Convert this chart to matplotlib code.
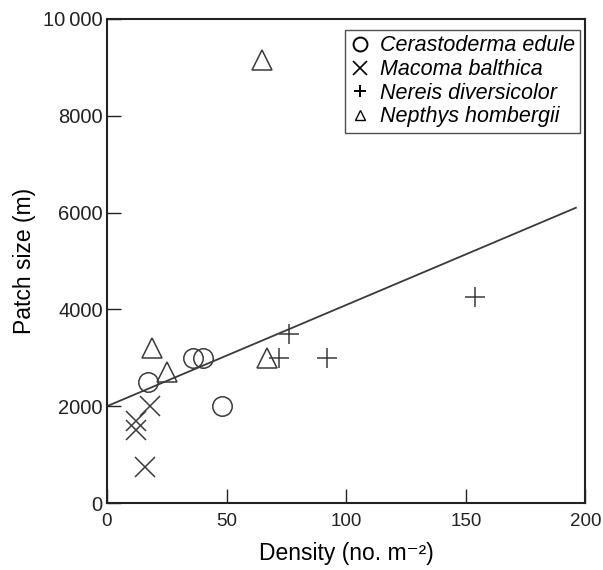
import matplotlib.pyplot as plt
from matplotlib.lines import Line2D

plt.rcParams['font.family'] = ['Liberation Sans', 'DejaVu Sans']

# values (density in no. m^-2, patch size in m)
cerastoderma_x = [17, 36, 40, 48]
cerastoderma_y = [2500, 3000, 3000, 2000]

macoma_x = [18, 12, 12, 16]
macoma_y = [2000, 1700, 1500, 750]

nereis_x = [76, 72, 92, 154]
nereis_y = [3500, 3000, 3000, 4250]

nepthys_x = [19, 25, 67, 65]
nepthys_y = [3200, 2700, 3000, 9150]

fit_x = [0, 196]
fit_y = [2000, 6100]

species = ["Cerastoderma edule", "Macoma balthica", "Nereis diversicolor", "Nepthys hombergii"]

x_ticks = [0, 50, 100, 150, 200]
y_ticks = [0, 2000, 4000, 6000, 8000, 10000]
y_tick_labels = ["0", "2000", "4000", "6000", "8000", "10\u2009000"]

fig = plt.figure(figsize=(6.03, 5.70), dpi=100)
ax = fig.add_axes([0.1774, 0.1175, 0.7935, 0.8492])

col = "#3a3a3a"
ax.plot(fit_x, fit_y, color=col, lw=1.3, zorder=1)

ax.plot(cerastoderma_x, cerastoderma_y, "o", ms=14, mfc="none", mec=col, mew=1.1)
ax.plot(macoma_x, macoma_y, "x", ms=15, mec=col, mew=1.1)
ax.plot(nereis_x, nereis_y, "+", ms=15, mec=col, mew=1.1)
ax.plot(nepthys_x, nepthys_y, "^", ms=14, mfc="none", mec=col, mew=1.1)

ax.set_xlim(0, 200)
ax.set_ylim(0, 10000)
ax.set_xticks(x_ticks)
ax.set_yticks(y_ticks)
ax.set_yticklabels(y_tick_labels)
ax.tick_params(direction="in", length=10, width=1,
               top=False, right=False, colors="#222222")
ax.tick_params(axis="x", pad=7, labelsize=13.5)
ax.tick_params(axis="y", pad=3, labelsize=14.5)

for sp in ax.spines.values():
    sp.set_linewidth(1.5)
    sp.set_color("#222222")

ax.set_xlabel("Density (no. m\u207b\u00b2)", fontsize=16.5, labelpad=9)
ax.set_ylabel("Patch size (m)", fontsize=16.5, labelpad=5)

# legend symbols look like small letters in the reference
handles = [
    Line2D([], [], ls="none", marker="o", ms=10, mfc="none", mec="k", mew=1.4),
    Line2D([], [], ls="none", marker="x", ms=10, mec="k", mew=1.2),
    Line2D([], [], ls="none", marker="+", ms=8, mec="k", mew=1.4),
    Line2D([], [], ls="none", marker="^", ms=7, mfc="none", mec="k", mew=1.0),
]
leg = ax.legend(handles, species, loc="upper right", bbox_to_anchor=(0.989, 0.977),
                prop={"style": "italic", "size": 15.5}, frameon=True, fancybox=False,
                handlelength=0.9, handletextpad=0.45, borderpad=0.25, labelspacing=0.12,
                borderaxespad=0)
leg.get_frame().set_edgecolor("#222222")
leg.get_frame().set_linewidth(1.0)

fig.savefig("out.png", dpi=100)
